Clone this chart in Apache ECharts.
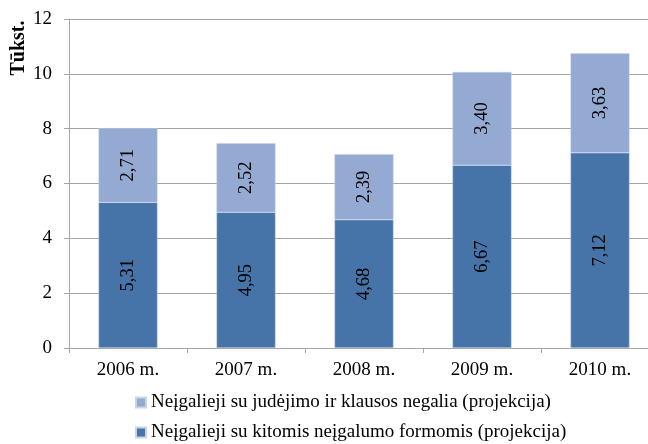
<!DOCTYPE html>
<html>
<head>
<meta charset="utf-8">
<script src="https://cdn.jsdelivr.net/npm/echarts@6/dist/echarts.min.js"></script>
<style>
html, body { margin: 0; padding: 0; background: #fff; }
#chart { width: 648px; height: 444px; }
</style>
</head>
<body>
<div id="chart"></div>
<script>
// duomenys
var years = ['2006 m.', '2007 m.', '2008 m.', '2009 m.', '2010 m.'];
var otherForms = [5.31, 4.95, 4.68, 6.67, 7.12];
var movementHearing = [2.71, 2.52, 2.39, 3.40, 3.63];
var nameOther = 'Neįgalieji su kitomis neįgalumo formomis (projekcija)';
var nameMovement = 'Neįgalieji su judėjimo ir klausos negalia (projekcija)';

var darkBlue = '#4674a8';
var lightBlue = '#95aad2';
var gridColor = '#a6a6a6';
var fontName = '"Liberation Serif", "Times New Roman", serif';

function fmt(p) {
    return p.value.toFixed(2).replace('.', ',');
}

var myChart = echarts.init(document.getElementById('chart'));
myChart.setOption({
    animation: false,
    textStyle: { fontFamily: fontName },
    // plotas eina uz paveikslo krasto (kaip originale)
    grid: { left: 69, top: 19, height: 329, width: 590, outerBoundsMode: 'none', containLabel: false },
    legend: {
        orient: 'vertical',
        left: 135,
        top: 393,
        height: 80,
        padding: 0,
        itemWidth: 10,
        itemHeight: 10,
        itemGap: 11,
        icon: 'rect',
        data: [nameMovement, nameOther],
        textStyle: { fontFamily: fontName, fontSize: 19, color: '#000' }
    },
    graphic: [{
        type: 'text',
        x: 19,
        y: 48,
        rotation: Math.PI / 2,
        style: {
            text: 'Tūkst.',
            font: 'bold 20px ' + fontName,
            fill: '#000',
            align: 'center',
            verticalAlign: 'middle'
        }
    }],
    xAxis: {
        type: 'category',
        data: years,
        axisLine: { lineStyle: { color: gridColor } },
        axisTick: { show: true, length: 5, lineStyle: { color: gridColor } },
        axisLabel: { color: '#000', fontSize: 19, margin: 13, fontFamily: fontName }
    },
    yAxis: {
        type: 'value',
        min: 0,
        max: 12,
        interval: 2,
        axisLine: { show: true, lineStyle: { color: gridColor } },
        axisTick: { show: true, length: 5, lineStyle: { color: gridColor } },
        axisLabel: { color: '#000', fontSize: 19, margin: 17, fontFamily: fontName },
        splitLine: { lineStyle: { color: gridColor } }
    },
    series: [
        {
            name: nameOther,
            type: 'bar',
            stack: 'total',
            data: otherForms,
            barWidth: '50%',
            itemStyle: { color: darkBlue, borderColor: '#c9d4e6', borderWidth: 0.5 },
            label: {
                show: true,
                position: 'inside',
                rotate: 90,
                formatter: fmt,
                color: '#000',
                fontSize: 18.5,
                fontFamily: fontName
            }
        },
        {
            name: nameMovement,
            type: 'bar',
            stack: 'total',
            data: movementHearing,
            barWidth: '50%',
            itemStyle: { color: lightBlue, borderColor: '#c9d4e6', borderWidth: 0.5 },
            label: {
                show: true,
                position: 'inside',
                rotate: 90,
                formatter: fmt,
                color: '#000',
                fontSize: 18.5,
                fontFamily: fontName
            }
        }
    ]
});
</script>
</body>
</html>
